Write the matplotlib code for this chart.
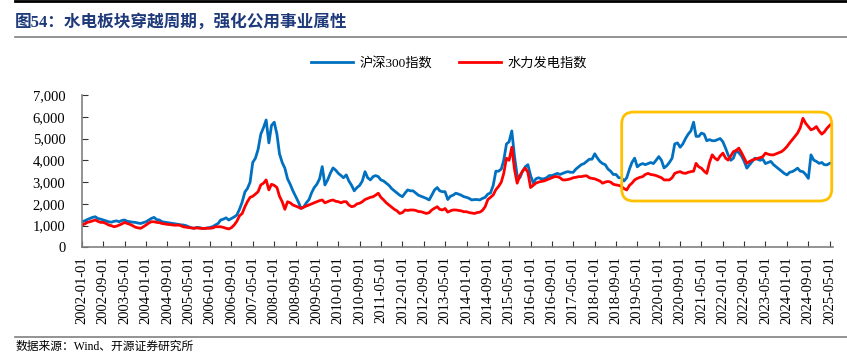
import pandas as pd
import matplotlib
matplotlib.use('Agg')
import matplotlib.pyplot as plt
import matplotlib.dates as mdates
from matplotlib.patches import FancyBboxPatch
from matplotlib.ticker import FuncFormatter

TITLE = '图54：水电板块穿越周期，强化公用事业属性'
SOURCE = '数据来源：Wind、开源证券研究所'
NAME_HS300 = '沪深300指数'
NAME_HYDRO = '水力发电指数'

# monthly readings, thousands of points, 2002-01 .. 2025-06
hs300 = [
    1.18, 1.22, 1.28, 1.33, 1.38, 1.41, 1.33, 1.30, 1.26, 1.22, 1.18, 1.16,
    1.20, 1.22, 1.18, 1.24, 1.26, 1.20, 1.18, 1.16, 1.15, 1.12, 1.10, 1.14,
    1.18, 1.26, 1.33, 1.38, 1.28, 1.26, 1.18, 1.16, 1.14, 1.12, 1.10, 1.08,
    1.06, 1.04, 1.03, 1.00, 0.95, 0.90, 0.88, 0.92, 0.91, 0.88, 0.87, 0.90,
    0.92, 0.96, 1.03, 1.10, 1.26, 1.30, 1.36, 1.26, 1.33, 1.40, 1.49, 1.75,
    2.09, 2.55, 2.70, 3.00, 3.90, 4.10, 4.50, 5.20, 5.50, 5.85, 4.80, 5.60,
    5.75, 5.20, 4.30, 3.90, 3.64, 3.15, 2.90, 2.60, 2.35, 2.10, 1.80, 1.85,
    2.05, 2.20, 2.50, 2.75, 2.90, 3.15, 3.71, 2.87, 3.10, 3.40, 3.65, 3.55,
    3.40, 3.30, 3.20, 3.33, 3.05, 2.85, 2.60, 2.75, 2.85, 3.05, 3.48, 3.20,
    3.10, 3.25, 3.30, 3.25, 3.10, 3.05, 2.95, 2.85, 2.70, 2.60, 2.50, 2.40,
    2.33, 2.50, 2.64, 2.60, 2.60, 2.50, 2.40, 2.35, 2.30, 2.25, 2.18, 2.40,
    2.64, 2.75, 2.60, 2.56, 2.56, 2.20, 2.35, 2.40, 2.49, 2.45, 2.40, 2.33,
    2.30, 2.25, 2.18, 2.20, 2.20, 2.18, 2.25, 2.30, 2.45, 2.50, 2.85, 3.50,
    3.50, 3.60, 4.00, 4.75, 4.85, 5.35, 4.20, 3.30, 3.20, 3.50, 3.70, 3.80,
    3.30, 2.95, 3.15, 3.20, 3.15, 3.15, 3.20, 3.30, 3.30, 3.35, 3.40, 3.35,
    3.40, 3.45, 3.48, 3.45, 3.45, 3.60, 3.70, 3.80, 3.85, 3.95, 4.05, 4.05,
    4.30, 4.10, 3.95, 3.85, 3.80, 3.60, 3.50, 3.35, 3.35, 3.20, 3.20, 3.05,
    3.20, 3.60, 3.90, 4.10, 3.70, 3.80, 3.85, 3.80, 3.85, 3.90, 3.85, 4.00,
    4.17, 4.00, 3.65, 3.75, 3.90, 4.10, 4.75, 4.80, 4.60, 4.75, 5.00, 5.20,
    5.35, 5.75, 5.10, 5.10, 5.25, 5.20, 4.90, 4.95, 4.90, 4.90, 4.95, 5.00,
    4.85, 4.55, 4.25, 4.00, 4.10, 4.45, 4.35, 4.20, 3.95, 3.64, 3.80, 3.95,
    4.10, 4.05, 4.00, 4.05, 3.85, 3.90, 3.95, 3.80, 3.70, 3.60, 3.50, 3.40,
    3.33, 3.45, 3.48, 3.55, 3.64, 3.50, 3.48, 3.35, 3.17, 4.25, 4.01, 3.95,
    3.86, 3.90, 3.80, 3.79, 3.86, 3.90,
]
hydro = [
    1.03, 1.08, 1.15, 1.18, 1.22, 1.26, 1.20, 1.15, 1.15, 1.10, 1.03, 1.00,
    0.95, 0.98, 1.03, 1.08, 1.15, 1.10, 1.06, 1.00, 0.93, 0.90, 0.88, 0.95,
    1.03, 1.12, 1.18, 1.18, 1.15, 1.14, 1.10, 1.08, 1.06, 1.05, 1.03, 1.02,
    1.03, 1.00, 0.95, 0.93, 0.91, 0.90, 0.88, 0.90, 0.88, 0.87, 0.88, 0.88,
    0.88, 0.90, 0.95, 0.95, 0.95, 0.92, 0.88, 0.85, 0.91, 1.03, 1.20, 1.45,
    1.56, 1.87, 2.10, 2.30, 2.35, 2.45, 2.56, 2.87, 2.95, 3.10, 2.64, 2.90,
    2.85, 2.75, 2.35, 2.10, 1.75, 2.10, 2.05, 1.95, 1.90, 1.85, 1.79, 1.85,
    1.90, 1.95, 2.00, 2.05, 2.10, 2.15, 2.18, 2.05, 2.10, 2.15, 2.18, 2.12,
    2.10, 2.05, 2.10, 2.10, 1.95, 1.87, 1.90, 2.00, 2.03, 2.10, 2.20, 2.25,
    2.30, 2.33, 2.40, 2.49, 2.30, 2.18, 2.05, 1.95, 1.85, 1.75, 1.68, 1.56,
    1.60, 1.72, 1.70, 1.72, 1.72, 1.70, 1.65, 1.64, 1.60, 1.56, 1.60, 1.72,
    1.80, 1.87, 1.75, 1.72, 1.79, 1.62, 1.68, 1.72, 1.72, 1.70, 1.68, 1.64,
    1.64, 1.60, 1.58, 1.56, 1.60, 1.62, 1.70, 1.87, 2.20, 2.30, 2.41, 2.65,
    2.80, 3.00, 3.40, 4.10, 4.00, 4.60, 3.60, 2.95, 3.30, 3.50, 3.64, 3.45,
    2.75, 2.85, 2.95, 3.00, 3.03, 3.05, 3.10, 3.15, 3.20, 3.25, 3.25, 3.20,
    3.10, 3.10, 3.12, 3.15, 3.20, 3.22, 3.25, 3.25, 3.28, 3.29, 3.20, 3.17,
    3.15, 3.10, 3.05, 2.95, 3.00, 3.03, 3.00, 2.90, 2.87, 2.85, 2.80, 2.70,
    2.64, 2.85, 2.95, 3.10, 3.17, 3.22, 3.25, 3.35, 3.40, 3.35, 3.33, 3.30,
    3.25, 3.20, 3.10, 3.10, 3.10, 3.20, 3.40, 3.45, 3.48, 3.42, 3.40, 3.45,
    3.48, 3.50, 3.86, 3.70, 3.64, 3.50, 3.40, 3.90, 4.25, 4.10, 4.01, 4.20,
    4.33, 4.10, 4.01, 4.20, 4.40, 4.45, 4.56, 4.35, 4.10, 3.86, 3.95, 4.01,
    4.05, 4.09, 4.12, 4.17, 4.33, 4.28, 4.25, 4.25, 4.30, 4.35, 4.40, 4.50,
    4.63, 4.80, 4.94, 5.10, 5.25, 5.50, 5.93, 5.70, 5.55, 5.40, 5.45, 5.55,
    5.35, 5.20, 5.30, 5.47, 5.60, 5.70,
]
dates = pd.date_range('2002-01-01', periods=len(hs300), freq='MS')
tick_dates = pd.date_range('2002-01-01', '2025-05-01', freq='8MS')

SERIF = ['Liberation Serif', 'Noto Sans CJK SC']
plt.rcParams['font.family'] = SERIF

fig = plt.figure(figsize=(8.47, 3.53), dpi=100)
ax = fig.add_axes([0.0968, 0.299, 0.887, 0.432])

ax.plot(dates, [v * 1000 for v in hs300], color='#0070C0', lw=2.0, label=NAME_HS300)
ax.plot(dates, [v * 1000 for v in hydro], color='#FF0000', lw=2.0, label=NAME_HYDRO)

ax.set_ylim(0, 7000)
ax.set_yticks(range(0, 7001, 1000))
ax.yaxis.set_major_formatter(FuncFormatter(lambda v, p: f'{int(v):,}'))
ax.set_xlim(pd.Timestamp('2002-01-01'), pd.Timestamp('2025-06-12'))
ax.set_xticks(tick_dates)
ax.xaxis.set_major_formatter(mdates.DateFormatter('%Y-%m-%d'))
plt.setp(ax.get_xticklabels(), rotation=90)
ax.tick_params(axis='both', direction='in', labelsize=10.5, colors='#333333', length=4)
ax.tick_params(axis='x', pad=6)
ax.tick_params(axis='y', pad=12)
for t in ax.get_xticklabels() + ax.get_yticklabels():
    t.set_color('black')
for s in ['top', 'right']:
    ax.spines[s].set_visible(False)
for s in ['left', 'bottom']:
    ax.spines[s].set_color('#808080')
    ax.spines[s].set_linewidth(1.2)

leg = fig.legend(loc='center', bbox_to_anchor=(0.53, 0.822), ncol=2, frameon=False,
                 fontsize=9.5, handlelength=3.2, columnspacing=2.0, handletextpad=0.5)

# highlight box, drawn in figure fraction
box = FancyBboxPatch((0.734, 0.4306), 0.248, 0.252, transform=fig.transFigure,
                     boxstyle='round,pad=0,rounding_size=0.0142', mutation_aspect=2.4,
                     fill=False, edgecolor='#FFC000', lw=2.0, zorder=5)
fig.patches.append(box)

# header / footer rules
fig.add_artist(plt.Line2D([0.018, 1.0], [0.997, 0.997], color='black', lw=2.0))
fig.add_artist(plt.Line2D([0.018, 1.0], [0.895, 0.895], color='#808080', lw=1.2))
fig.add_artist(plt.Line2D([0.018, 1.0], [0.045, 0.045], color='#808080', lw=1.2))

fig.text(0.018, 0.937, TITLE, fontsize=12, fontweight='bold', color='#1F3A7A',
         va='center', ha='left', family=SERIF)
fig.text(0.018, 0.017, SOURCE, fontsize=8.5, color='black', va='center', ha='left',
         family=SERIF)

fig.savefig('out.png', dpi=100)
